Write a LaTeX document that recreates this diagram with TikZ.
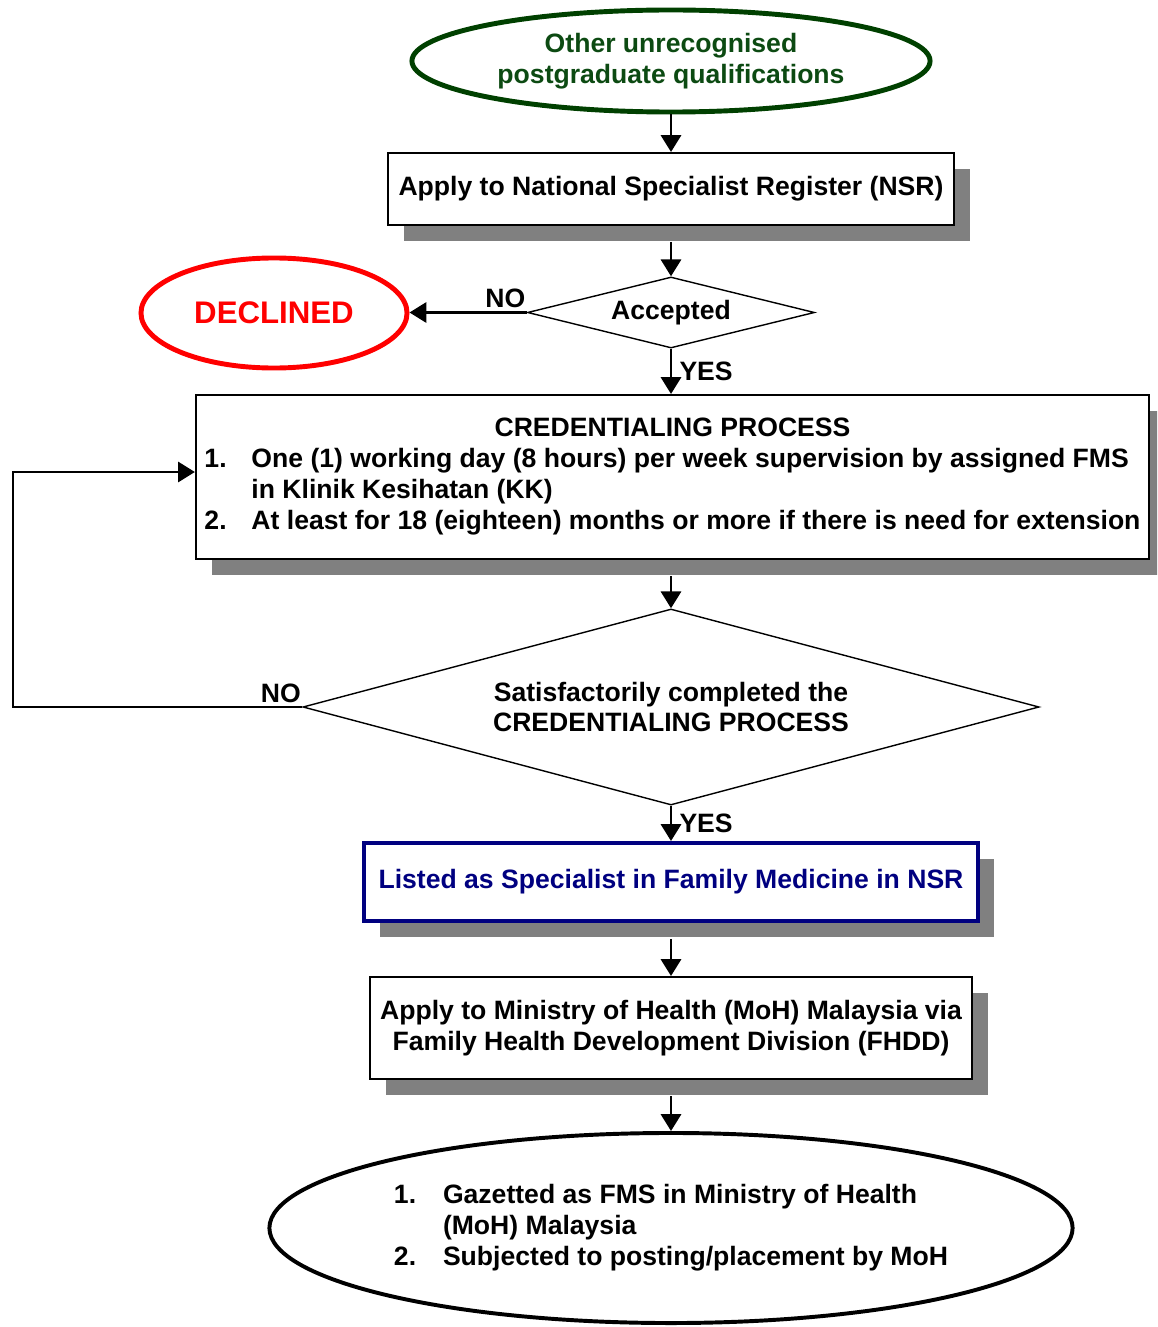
\documentclass[tikz,border=0pt]{standalone}
\usepackage{fontspec}
\setmainfont{Liberation Sans}
\usetikzlibrary{positioning,arrows.meta,shapes.geometric,shadows}

\definecolor{ovalgreen}{RGB}{0,64,0}
\definecolor{textgreen}{RGB}{12,74,18}
\definecolor{declred}{RGB}{255,0,0}
\definecolor{listnavy}{RGB}{0,0,128}
\definecolor{shadowgray}{RGB}{128,128,128}

\begin{document}
\begin{tikzpicture}[x=0.025cm, y=-0.025cm,
  font=\bfseries\fontsize{18.9}{22}\selectfont,
  box/.style={draw, line width=1.4pt, fill=white, inner sep=0pt, align=center,
    drop shadow={fill=shadowgray, opacity=1, shadow xshift=0.4cm, shadow yshift=-0.4cm}},
  decision/.style={draw, diamond, line width=1pt, inner sep=0pt, align=center},
  oval/.style={draw, ellipse, inner sep=0pt, align=center},
  flow/.style={line width=2.1pt, -{Triangle[length=0.42cm, width=0.5cm]}},
  yestag/.style={inner sep=5pt, right},
  notag/.style={inner xsep=0pt, inner ysep=2pt, pos=0, above left}]
  \clip (0,0) rectangle (1157,1327);

  % start and end ovals
  \node[oval, line width=3.5pt, draw=ovalgreen, text=textgreen,
    minimum width=12.95cm, minimum height=2.55cm] (qual) at (671,61)
    {Other unrecognised\\postgraduate qualifications};
  \node[oval, line width=3.5pt, draw=declred, text=declred,
    font=\bfseries\fontsize{22.2}{26}\selectfont,
    minimum width=6.65cm, minimum height=2.75cm] (declined) at (274,313) {DECLINED};
  \node[oval, line width=2.8pt, minimum width=20.075cm, minimum height=4.75cm]
    (gazette) at (671,1228) {%
    \begin{tabular}{@{}p{1.225cm}@{}l@{}}
    1. & Gazetted as FMS in Ministry of Health\\
       & (MoH) Malaysia\\
    2. & Subjected to posting/placement by MoH
    \end{tabular}};

  % boxes
  \node[box, minimum width=14.15cm, minimum height=1.8cm] (nsr) at (671,189)
    {Apply to National Specialist Register (NSR)};
  \node[box, minimum width=23.825cm, minimum height=4.1cm] (cred) at (672.5,477) {%
    \begin{tabular}{@{}p{1.175cm}@{}l@{}}
    \multicolumn{2}{c}{CREDENTIALING PROCESS}\\
    1. & One (1) working day (8 hours) per week supervision by assigned FMS\\
       & in Klinik Kesihatan (KK)\\
    2. & At least for 18 (eighteen) months or more if there is need for extension
    \end{tabular}};
  \node[box, line width=2.8pt, draw=listnavy, text=listnavy,
    minimum width=15.35cm, minimum height=1.95cm] (listed) at (671,882)
    {Listed as Specialist in Family Medicine in NSR};
  \node[box, minimum width=15.05cm, minimum height=2.55cm] (moh) at (671,1028)
    {Apply to Ministry of Health (MoH) Malaysia via\\Family Health Development Division (FHDD)};

  % decisions
  \node[decision, shape aspect=4, minimum width=7.175cm, minimum height=1.775cm]
    (accepted) at (671,312.5) {Accepted};
  \node[decision, shape aspect=3.75, minimum width=18.4cm, minimum height=4.9cm]
    (done) at (671,707) {Satisfactorily completed the\\CREDENTIALING PROCESS};
  \coordinate (loop) at (13,707);

  % connectors
  \draw[flow] (qual.south) -- (nsr.north);
  \draw[flow] ([yshift=-0.4cm]nsr.south) -- (accepted.north);
  \draw[flow] (accepted.west) -- node[notag] {NO} (accepted.west -| declined.east);
  \draw[flow] (accepted.south) -- node[yestag] {YES} (accepted.south |- cred.north);
  \draw[flow] ([yshift=-0.4cm]cred.south -| done.north) -- (done.north);
  \draw[flow] (done.west) -- node[notag] {NO} (loop)
    |- ([yshift=0.125cm]cred.west);
  \draw[flow] (done.south) -- node[yestag] {YES} (listed.north);
  \draw[flow] ([yshift=-0.4cm]listed.south) -- (moh.north);
  \draw[flow] ([yshift=-0.4cm]moh.south) -- (gazette.north);
\end{tikzpicture}
\end{document}
